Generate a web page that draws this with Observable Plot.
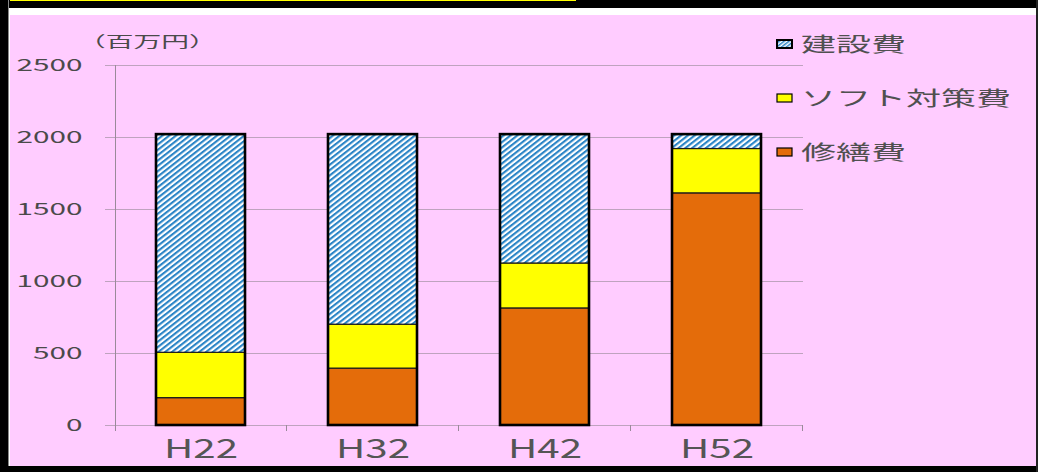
<!DOCTYPE html>
<html><head><meta charset="utf-8">
<script src="https://cdn.jsdelivr.net/npm/d3@7"></script>
<script src="https://cdn.jsdelivr.net/npm/@observablehq/plot@0.6"></script>
<style>
body{margin:0;background:#fff;}
#wrap{position:relative;width:1038px;height:472px;overflow:hidden;font-family:"Noto Sans CJK JP","Noto Sans",sans-serif;color:#444;background:#fff;}
.abs{position:absolute;}
#pink{left:10px;top:15px;width:1027px;height:451px;background:#ffccff;}
#chart{left:0;top:0;}
.leg{position:absolute;left:776px;height:24px;display:flex;align-items:center;white-space:nowrap;}
.leg svg{display:block;}
.leg span{display:inline-block;margin-left:8px;font-size:20px;line-height:24px;transform:scaleX(1.75);transform-origin:left center;color:#505050;}
#unit{left:78px;top:30px;font-size:15px;line-height:22px;transform:scaleX(1.85);transform-origin:left center;color:#4a4a4a;white-space:nowrap;}
</style></head><body>
<div id="wrap">
  <div id="pink" class="abs"></div>
  <div class="abs" style="left:0;top:0;width:1038px;height:8px;background:#000"></div>
  <div class="abs" style="left:10px;top:0;width:566px;height:1px;background:#ffff00"></div>
  <div class="abs" style="left:0;top:0;width:8px;height:472px;background:#000"></div>
  <div class="abs" style="left:8px;top:0;width:1px;height:472px;background:#888"></div>
  <div class="abs" style="left:0;top:466px;width:1038px;height:6px;background:#000"></div>
  <div class="abs" style="left:1036px;top:0;width:2px;height:472px;background:#222"></div>
  <div id="chart" class="abs"></div>
  <div id="unit" class="abs"></div>
  <div id="legend"></div>
</div>
<script>
const periods = ["H22", "H32", "H42", "H52"];
const seriesNames = ["建設費", "ソフト対策費", "修繕費"];
const construction = [1515, 1320, 895, 100];
const soft = [315, 305, 312, 308];
const repair = [190, 395, 813, 1612];
const yTicks = [0, 500, 1000, 1500, 2000, 2500];
const unitLabel = "（百万円）";
const seriesFills = ["url(#hatch)", "#ffff00", "#e46c0a"];

const rows = periods.flatMap((p, i) => [
  {period: p, series: "修繕費", value: repair[i]},
  {period: p, series: "ソフト対策費", value: soft[i]},
  {period: p, series: "建設費", value: construction[i]}
]);
const totals = periods.map((p, i) => ({period: p, total: repair[i] + soft[i] + construction[i]}));

const gridColor = "#bfa3bf";

function defsMark() {
  const g = d3.create("svg:g");
  const pat = g.append("defs").append("pattern")
    .attr("id", "hatch").attr("patternUnits", "userSpaceOnUse")
    .attr("width", 8).attr("height", 4.2)
    .attr("patternTransform", "rotate(-38)");
  pat.append("rect").attr("width", 8).attr("height", 4.2).attr("fill", "#ffffff");
  pat.append("rect").attr("width", 8).attr("height", 2.1).attr("fill", "#2a84c6");
  return g.node();
}

function axesMark(index, scales, values, dims) {
  const g = d3.create("svg:g");
  const x = scales.x, y = scales.y;
  const left = dims.marginLeft, right = dims.width - dims.marginRight;
  const top = dims.marginTop;
  const step = x.step ? x.step() : (right - left) / periods.length;
  const bw = x.bandwidth ? x.bandwidth() : 0;
  const y0 = y(0);
  g.append("line").attr("x1", left + 0.5).attr("x2", left + 0.5).attr("y1", top).attr("y2", y0 + 6)
    .attr("stroke", "#9a8a9a").attr("stroke-width", 1);
  const bounds = periods.map(p => x(p) + bw / 2 + step / 2);
  g.selectAll("line.b").data(bounds).join("line")
    .attr("x1", d => d).attr("x2", d => d).attr("y1", y0).attr("y2", y0 + 6)
    .attr("stroke", "#9a8a9a").attr("stroke-width", 1);
  return g.node();
}

const chart = Plot.plot({
  width: 1038,
  height: 472,
  marginLeft: 115,
  marginRight: 235,
  marginTop: 65,
  marginBottom: 47,
  style: {background: "transparent", fontFamily: "'Noto Sans CJK JP', 'Noto Sans', sans-serif", color: "#4a4a4a"},
  x: {domain: periods, paddingInner: 0.48, paddingOuter: 0.24, label: null},
  y: {domain: [0, 2500], label: null},
  color: {domain: seriesNames, range: seriesFills},
  marks: [
    defsMark,
    Plot.ruleY(yTicks, {stroke: gridColor, strokeWidth: 1.2}),
    Plot.axisY({ticks: yTicks, tickSize: 10, tickPadding: 23, stroke: gridColor, fontSize: 17, tickFormat: d => String(d), label: null}),
    Plot.axisX({tickSize: 0, tickPadding: 14, fontSize: 26, fill: "#555", label: null}),
    axesMark,
    Plot.barY(rows, {x: "period", y: "value", fill: "series", stroke: "#1a1a1a", strokeWidth: 1.2}),
    Plot.barY(totals, {x: "period", y: "total", fill: "none", stroke: "#000", strokeWidth: 2.6})
  ]
});

function stretch(sel, s) {
  sel.each(function() {
    const t = this.getAttribute("transform");
    if (t) this.setAttribute("transform", t + ` scale(${s},1)`);
    else {
      const x = +this.getAttribute("x") || 0, y = +this.getAttribute("y") || 0;
      this.removeAttribute("x"); this.removeAttribute("y");
      this.setAttribute("transform", `translate(${x},${y}) scale(${s},1)`);
    }
  });
}
const svgSel = d3.select(chart);
stretch(svgSel.selectAll('g[aria-label="y-axis tick label"] text'), 1.75);
stretch(svgSel.selectAll('g[aria-label="x-axis tick label"] text'), 1.55);
document.getElementById("chart").appendChild(chart);

document.getElementById("unit").textContent = unitLabel;

// legend
const legendTops = [32, 86, 140];
const legend = d3.select("#legend");
seriesNames.forEach((name, i) => {
  const item = legend.append("div").attr("class", "leg").style("top", legendTops[i] + "px");
  const sw = item.append("svg").attr("width", 17).attr("height", 10);
  if (i === 0) {
    const pat = sw.append("defs").append("pattern").attr("id", "hatchL").attr("patternUnits", "userSpaceOnUse")
      .attr("width", 6).attr("height", 3).attr("patternTransform", "rotate(-38)");
    pat.append("rect").attr("width", 6).attr("height", 3).attr("fill", "#fff");
    pat.append("rect").attr("width", 6).attr("height", 1.5).attr("fill", "#2a84c6");
  }
  sw.append("rect").attr("x", 1).attr("y", 1).attr("width", 15).attr("height", 8)
    .attr("fill", i === 0 ? "url(#hatchL)" : seriesFills[i])
    .attr("stroke", "#000").attr("stroke-width", i === 0 ? 2 : 1.2);
  item.append("span").text(name);
});
</script>
</body></html>
